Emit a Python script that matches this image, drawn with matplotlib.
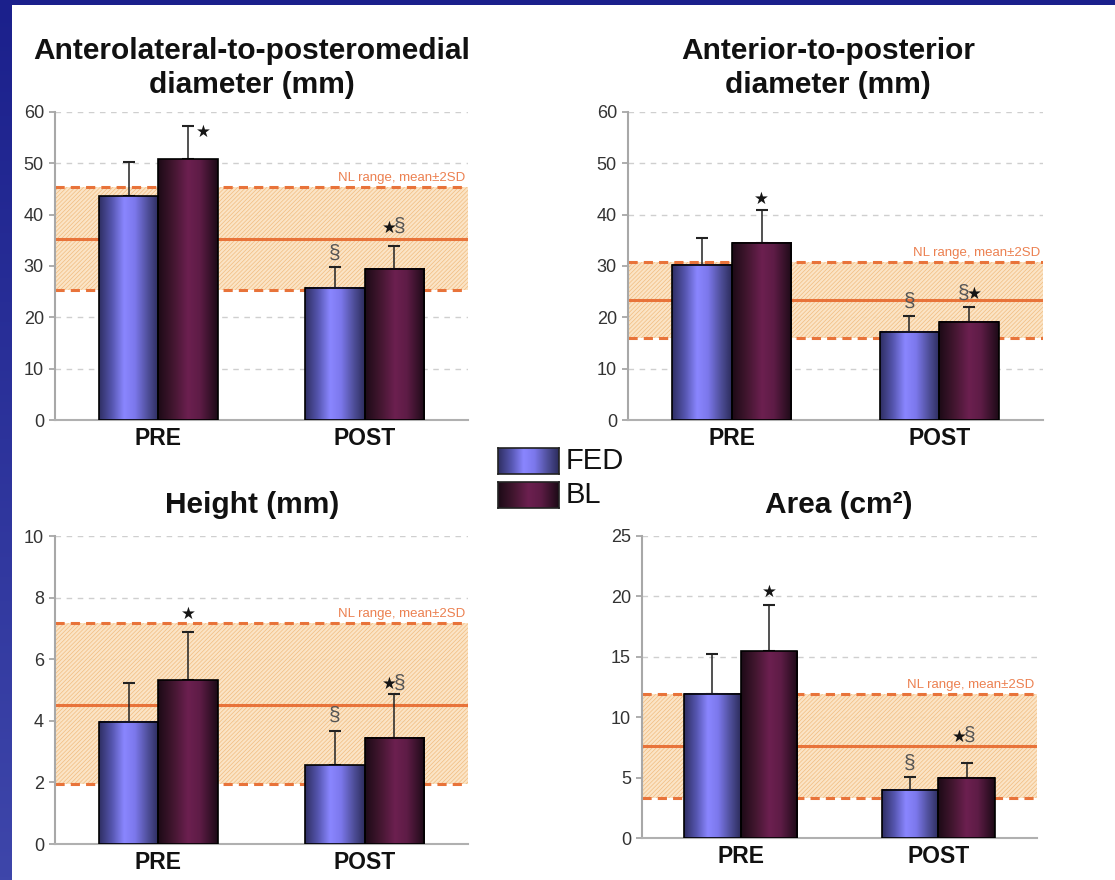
import numpy as np
import matplotlib
matplotlib.use("Agg")
import matplotlib.pyplot as plt
from matplotlib.colors import LinearSegmentedColormap
import matplotlib.transforms as mtransforms

plt.rcParams['font.family'] = ['Liberation Sans', 'DejaVu Sans']
plt.rcParams['hatch.linewidth'] = 0.5

# ---------------- data ----------------
categories = ['PRE', 'POST']
series = ['FED', 'BL']

titles = ['Anterolateral-to-posteromedial\ndiameter (mm)',
          'Anterior-to-posterior\ndiameter (mm)',
          'Height (mm)',
          'Area (cm²)']

alpm_fed = [43.6, 25.8]
alpm_fed_sd = [6.6, 4.1]
alpm_bl = [50.8, 29.5]
alpm_bl_sd = [6.5, 4.3]
alpm_nl = [25.3, 35.2, 45.4]   # lower, mean, upper

ap_fed = [30.2, 17.2]
ap_fed_sd = [5.2, 3.1]
ap_bl = [34.5, 19.1]
ap_bl_sd = [6.4, 2.9]
ap_nl = [16.0, 23.4, 30.7]

height_fed = [3.97, 2.56]
height_fed_sd = [1.26, 1.12]
height_bl = [5.32, 3.45]
height_bl_sd = [1.55, 1.42]
height_nl = [1.94, 4.51, 7.16]

area_fed = [11.95, 4.0]
area_fed_sd = [3.3, 1.05]
area_bl = [15.45, 5.0]
area_bl_sd = [3.8, 1.24]
area_nl = [3.31, 7.59, 11.95]

yticks_list = [np.arange(0, 61, 10), np.arange(0, 61, 10),
               np.arange(0, 11, 2), np.arange(0, 26, 5)]

# significance marks: (category index, series index, text)
marks = [
    [(0, 1, '*'), (1, 0, '§'), (1, 1, '*§')],
    [(0, 1, '*'), (1, 0, '§'), (1, 1, '§*')],
    [(0, 1, '*'), (1, 0, '§'), (1, 1, '*§')],
    [(0, 1, '*'), (1, 0, '§'), (1, 1, '*§')],
]
# pixel offsets of marks (dx, dy) relative to error-bar top
mark_offsets = [
    [(15, -6), (0, 12), (0, 19)],
    [(0, 11), (0, 14), (0, 13)],
    [(0, 18), (0, 14), (0, 10)],
    [(0, 14), (0, 13), (-2, 26)],
]

panels = [
    (alpm_fed, alpm_fed_sd, alpm_bl, alpm_bl_sd, alpm_nl),
    (ap_fed, ap_fed_sd, ap_bl, ap_bl_sd, ap_nl),
    (height_fed, height_fed_sd, height_bl, height_bl_sd, height_nl),
    (area_fed, area_fed_sd, area_bl, area_bl_sd, area_nl),
]

# ---------------- styling ----------------
W, H = 1115, 880
fig = plt.figure(figsize=(W / 100, H / 100), dpi=100, facecolor='white')

def px_rect(x0, y0, x1, y1):
    return [x0 / W, 1 - y1 / H, (x1 - x0) / W, (y1 - y0) / H]

# blue frame
axl = fig.add_axes(px_rect(0, 0, 12, H))
axl.imshow(np.linspace(0, 1, 256).reshape(-1, 1), aspect='auto',
           cmap=LinearSegmentedColormap.from_list('bl', ['#1b208c', '#3e46aa']))
axl.axis('off')
axt = fig.add_axes(px_rect(0, 0, W, 5))
axt.set_facecolor('#1b208c')
axt.set_xticks([]); axt.set_yticks([])
for s in axt.spines.values():
    s.set_visible(False)

fed_cmap = LinearSegmentedColormap.from_list(
    'fed', [(0, '#2e2e62'), (0.22, '#5656b0'), (0.42, '#8a86ff'),
            (0.6, '#7c78ec'), (0.82, '#4e4e98'), (1, '#2c2c5c')])
bl_cmap = LinearSegmentedColormap.from_list(
    'blc', [(0, '#1c0a16'), (0.25, '#42162f'), (0.5, '#6c2050'),
            (0.7, '#5e1c46'), (1, '#1c0a16')])
cmaps = [fed_cmap, bl_cmap]

orange = '#e8733a'
grad = np.linspace(0, 1, 256).reshape(1, -1)

axes_px = [(55, 112, 468, 420), (628, 112, 1043, 420),
           (55, 536, 468, 844), (642, 536, 1037, 838)]
title_pos = [(252, 68), (828, 68), (252, 505), (839, 505)]

bw = 0.287
x = np.arange(len(categories))


def draw_mark(ax, xy, txt, dx, dy):
    n = len(txt)
    step = 11
    start = dx - step * (n - 1) / 2
    for k, ch in enumerate(txt):
        ox = start + k * step
        if ch == '*':
            ax.annotate('★', xy=xy, xytext=(ox, dy), textcoords='offset pixels',
                        ha='center', va='center', fontsize=12, color='#151515',
                        family='DejaVu Sans', zorder=6)
        else:
            ax.annotate(ch, xy=xy, xytext=(ox, dy + 1), textcoords='offset pixels',
                        ha='center', va='center', fontsize=15, color='#555555',
                        zorder=6)


for i, (fed, fed_sd, bl, bl_sd, nl) in enumerate(panels):
    ax = fig.add_axes(px_rect(*axes_px[i]))
    yt = yticks_list[i]
    ymax = yt[-1]
    ax.set_axisbelow(True)
    ax.yaxis.grid(True, color='#cfcfcf', linestyle=(0, (4, 4)), linewidth=1, zorder=0)

    # normal range band
    ax.axhspan(nl[0], nl[2], facecolor='#fbe2c0', edgecolor='#f0b878',
               hatch='////////', linewidth=0, zorder=1, alpha=0.9)
    ax.axhline(nl[0], color=orange, linestyle=(0, (3, 2)), linewidth=2.2, zorder=1.5)
    ax.axhline(nl[2], color=orange, linestyle=(0, (3, 2)), linewidth=2.2, zorder=1.5)
    ax.axhline(nl[1], color=orange, linewidth=2.2, zorder=1.5)
    ax.annotate('NL range, mean±2SD',
                xy=(1, nl[2]), xycoords=mtransforms.blended_transform_factory(ax.transAxes, ax.transData),
                xytext=(-3, 3), textcoords='offset pixels', ha='right', va='bottom',
                fontsize=9.5, color='#ec8050', zorder=5)

    vals = [fed, bl]
    sds = [fed_sd, bl_sd]
    offs = [-bw / 2, bw / 2]
    for s in range(2):
        bars = ax.bar(x + offs[s], vals[s], width=bw, facecolor='none',
                      edgecolor='black', linewidth=1.2, zorder=4, label=series[s])
        ax.errorbar(x + offs[s], vals[s], yerr=[np.zeros(len(x)), sds[s]],
                    fmt='none', ecolor='#222222', elinewidth=1.1, capsize=4,
                    capthick=1.5, zorder=2)
        for r in bars:
            bx, by, bwid, bh = r.get_x(), r.get_y(), r.get_width(), r.get_height()
            ax.imshow(grad, extent=[bx, bx + bwid, by, by + bh], aspect='auto',
                      cmap=cmaps[s], zorder=3, interpolation='bicubic')

    # significance marks
    for (ci, si, txt), (dx, dy) in zip(marks[i], mark_offsets[i]):
        top = vals[si][ci] + sds[si][ci]
        draw_mark(ax, (x[ci] + offs[si], top), txt, dx, dy)

    ax.set_xlim(-0.5, 1.5)
    ax.set_ylim(0, ymax)
    ax.set_yticks(yt)
    ax.set_xticks(x)
    ax.set_xticklabels(categories, fontsize=16.5, fontweight='bold', color='#111111')
    ax.tick_params(axis='x', length=0, pad=5)
    ax.tick_params(axis='y', length=4, width=1.2, color='#a0a0a0', pad=4,
                   labelsize=13, labelcolor='#333333')
    for sname in ['top', 'right']:
        ax.spines[sname].set_visible(False)
    ax.spines['left'].set_color('#a8a8a8')
    ax.spines['left'].set_linewidth(1.5)
    ax.spines['bottom'].set_color('#b0b0b0')
    ax.spines['bottom'].set_linewidth(1.5)
    ax.set_facecolor('none')

    tx, ty = title_pos[i]
    fig.text(tx / W, 1 - ty / H, titles[i], ha='center', va='center',
             fontsize=21.5, fontweight='bold', color='#111111', linespacing=1.25)

# legend
leg_boxes = [(498, 448, 559, 474), (498, 482, 559, 508)]
for s in range(2):
    lax = fig.add_axes(px_rect(*leg_boxes[s]))
    lax.imshow(grad, aspect='auto', cmap=cmaps[s], interpolation='bicubic')
    lax.set_xticks([]); lax.set_yticks([])
    for sp in lax.spines.values():
        sp.set_color('#222222')
        sp.set_linewidth(1.2)
    y0, y1 = leg_boxes[s][1], leg_boxes[s][3]
    fig.text(566 / W, 1 - ((y0 + y1) / 2) / H, series[s], ha='left', va='center',
             fontsize=21, color='#111111')

fig.savefig('out.png', dpi=100, facecolor='white')
